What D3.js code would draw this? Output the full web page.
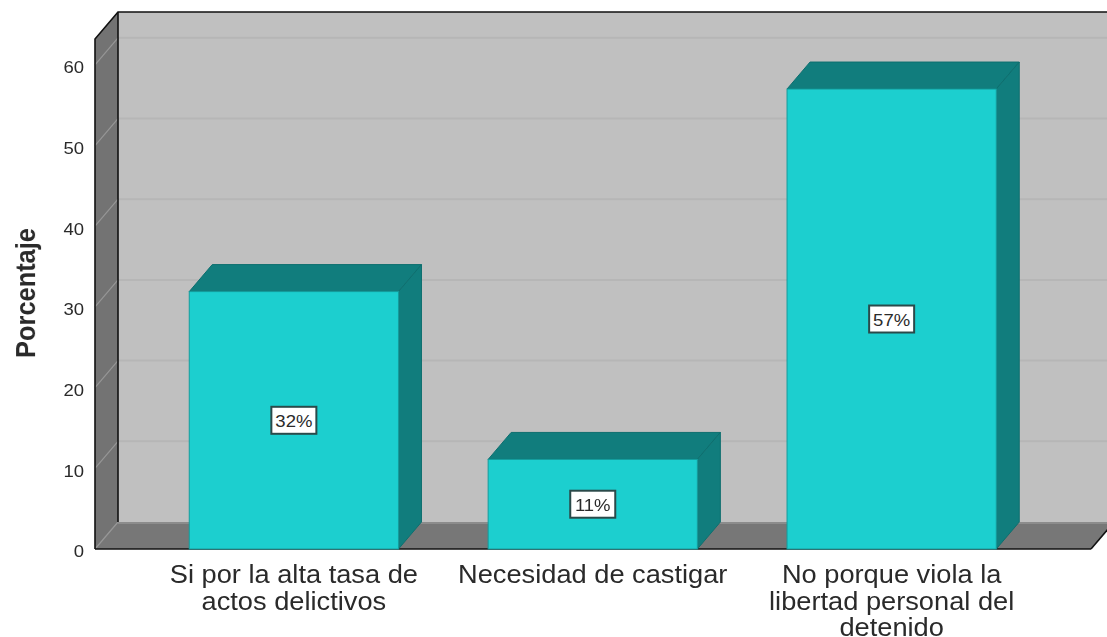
<!DOCTYPE html>
<html>
<head>
<meta charset="utf-8">
<script src="https://cdn.jsdelivr.net/npm/d3@7"></script>
<style>
  html, body { margin: 0; padding: 0; background: #fff; }
  text { font-family: "Liberation Sans", Arial, sans-serif; fill: #2a2a2a; }
  svg { filter: blur(0.45px); }
</style>
</head>
<body>
<div id="chart"></div>
<script>
var categories = ["Si por la alta tasa de actos delictivos", "Necesidad de castigar", "No porque viola la libertad personal del detenido"];
var categoryLines = [
  ["Si por la alta tasa de", "actos delictivos"],
  ["Necesidad de castigar"],
  ["No porque viola la", "libertad personal del", "detenido"]
];
var values = [31.9, 11.1, 57.0];
var valueLabels = ["32%", "11%", "57%"];
var yTicks = [0, 10, 20, 30, 40, 50, 60];

var svgWidth = 1107;
var svgHeight = 637;

// Offset of the back of the 3D box from the front plane
var depthX = 23;
var depthY = -27;

// The reference text is a little wider than it is tall
var stretch = 1.09;

var svg = d3.select("#chart")
  .append("svg")
  .attr("width", svgWidth)
  .attr("height", svgHeight)
  .style("display", "block");

var xScale = d3.scaleBand()
  .domain(categories)
  .range([94.5, 1091])
  .paddingInner(0.3)
  .paddingOuter(0.317);

var yScale = d3.scaleLinear()
  .domain([0, 63.2])
  .range([549, 39]);

var line = d3.line();
function poly(points, fill, stroke, width) {
  return svg.append("path")
    .attr("d", line(points) + "Z")
    .attr("fill", fill)
    .attr("stroke", stroke || "none")
    .attr("stroke-width", width || 0);
}

var x0 = 95, x1 = 1091;
var yBase = yScale(0), yTop = yScale.range()[1];

// back wall, side wall, floor
poly([[x0 + depthX, yTop + depthY], [svgWidth + 10, yTop + depthY], [svgWidth + 10, yBase + depthY], [x0 + depthX, yBase + depthY]], "#c0c0c0");
poly([[x0, yTop], [x0 + depthX, yTop + depthY], [x0 + depthX, yBase + depthY], [x0, yBase]], "#737373");
poly([[x0, yBase], [x0 + depthX, yBase + depthY], [x1 + depthX, yBase + depthY], [x1, yBase]], "#777777");

// gridlines
var gridTicks = yTicks.filter(d => d > 0);
svg.selectAll(".grid-back")
  .data(gridTicks)
  .enter()
  .append("line")
  .attr("x1", x0 + depthX)
  .attr("x2", svgWidth)
  .attr("y1", d => yScale(d) + depthY)
  .attr("y2", d => yScale(d) + depthY)
  .attr("stroke", "#b6b6b6")
  .attr("stroke-width", 2);

svg.selectAll(".grid-side")
  .data(yTicks)
  .enter()
  .append("line")
  .attr("x1", x0)
  .attr("x2", x0 + depthX)
  .attr("y1", d => yScale(d))
  .attr("y2", d => yScale(d) + depthY)
  .attr("stroke", "#969696")
  .attr("stroke-width", 1.2);

// strip at the foot of the back wall
svg.append("line")
  .attr("x1", x0 + depthX).attr("x2", svgWidth)
  .attr("y1", yBase + depthY + 1).attr("y2", yBase + depthY + 1)
  .attr("stroke", "#8c8c8c").attr("stroke-width", 2);

// box outline
var outline = "#111";
svg.append("path")
  .attr("d", line([[x0, yBase], [x0, yTop], [x0 + depthX, yTop + depthY], [svgWidth, yTop + depthY]]))
  .attr("fill", "none").attr("stroke", outline).attr("stroke-width", 1.6);
svg.append("line")
  .attr("x1", x0 + depthX).attr("x2", x0 + depthX)
  .attr("y1", yTop + depthY).attr("y2", yBase + depthY)
  .attr("stroke", outline).attr("stroke-width", 1.6);
svg.append("line")
  .attr("x1", x0).attr("x2", x1)
  .attr("y1", yBase).attr("y2", yBase)
  .attr("stroke", outline).attr("stroke-width", 1.6);
svg.append("line")
  .attr("x1", x1).attr("x2", x1 + depthX)
  .attr("y1", yBase).attr("y2", yBase + depthY)
  .attr("stroke", outline).attr("stroke-width", 1.6);

// bars
var barGroup = svg.selectAll(".bar")
  .data(categories)
  .enter()
  .append("g")
  .attr("class", "bar");

barGroup.each(function(cat, i) {
  var g = d3.select(this);
  var left = xScale(cat);
  var right = left + xScale.bandwidth();
  var top = yScale(values[i]);
  var edge = "#0e6f6f";
  g.append("path")
    .attr("d", line([[left, top], [left + depthX, top + depthY], [right + depthX, top + depthY], [right, top]]) + "Z")
    .attr("fill", "#117d7d").attr("stroke", edge);
  g.append("path")
    .attr("d", line([[right, top], [right + depthX, top + depthY], [right + depthX, yBase + depthY], [right, yBase]]) + "Z")
    .attr("fill", "#117d7d").attr("stroke", edge);
  g.append("rect")
    .attr("x", left)
    .attr("y", top)
    .attr("width", xScale.bandwidth())
    .attr("height", yBase - top)
    .attr("fill", "#1ccfcf")
    .attr("stroke", "#159c9c");

  // value label box
  var cx = (left + right) / 2;
  var cy = (top + yBase) / 2;
  g.append("rect")
    .attr("x", cx - 22.5)
    .attr("y", cy - 13.5)
    .attr("width", 45)
    .attr("height", 27)
    .attr("fill", "#fff")
    .attr("stroke", "#2a4a4a")
    .attr("stroke-width", 2);
  g.append("text")
    .attr("transform", `translate(${cx}, ${cy + 7}) scale(${stretch}, 1)`)
    .attr("text-anchor", "middle")
    .style("font-size", "17px")
    .text(valueLabels[i]);
});

// y axis labels, they sit a bit below the end of their gridline
var leftAxis = d3.axisLeft(yScale)
  .tickValues(yTicks)
  .tickSize(0)
  .tickPadding(11 / stretch);

var yAxis = svg.append("g")
  .attr("transform", `translate(${x0}, 0)`)
  .call(leftAxis);
yAxis.select(".domain").remove();
yAxis.selectAll("text")
  .attr("y", 2.5)
  .attr("transform", `scale(${stretch}, 1)`)
  .attr("font-family", null)
  .style("font-size", "17px");

// category labels
categories.forEach(function(cat, i) {
  var cx = xScale(cat) + xScale.bandwidth() / 2;
  categoryLines[i].forEach(function(s, j) {
    svg.append("text")
      .attr("transform", `translate(${cx}, ${583 + j * 26.5}) scale(${stretch}, 1)`)
      .attr("text-anchor", "middle")
      .style("font-size", "25px")
      .text(s);
  });
});

// y axis title
svg.append("text")
  .attr("transform", "translate(35, 293) rotate(-90) scale(1, 1.08)")
  .attr("text-anchor", "middle")
  .style("font-size", "25.4px")
  .style("font-weight", "bold")
  .text("Porcentaje");
</script>
</body>
</html>
